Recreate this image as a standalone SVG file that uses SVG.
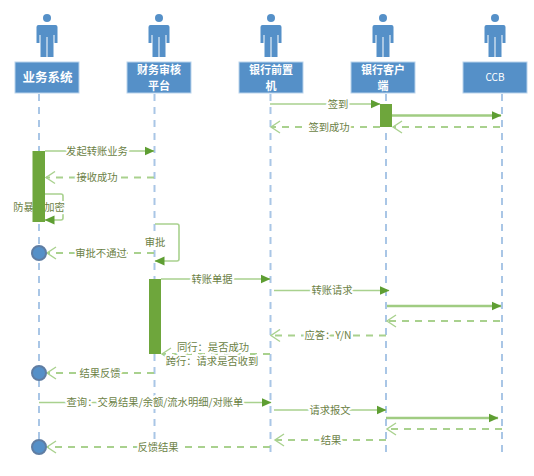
<svg xmlns="http://www.w3.org/2000/svg" width="534" height="476" viewBox="0 0 534 476">
<style>
text{font-family:"Noto Sans CJK SC","Liberation Sans",sans-serif}
.box{fill:#5590c8;stroke:#b9d3ec;stroke-width:1}
.bt{fill:#fff;font-size:11px;font-weight:700;text-anchor:middle}
.life{stroke:#a9c6e6;stroke-width:2;stroke-dasharray:7 6;fill:none}
.s{stroke:#a9d18e;stroke-width:1.6;fill:none;marker-end:url(#solid)}
.t{stroke:#a0cc82;stroke-width:2.4;fill:none;marker-end:url(#solid)}
.d{stroke:#a9d18e;stroke-width:2;stroke-dasharray:7 6;fill:none;marker-end:url(#open)}
.lb{fill:#6b7f45;font-size:10.3px;text-anchor:middle;stroke:#fff;stroke-width:4;paint-order:stroke;stroke-linejoin:round}
.act{fill:#6ea63c}
.end{fill:#5590c8;stroke:#5f7da3;stroke-width:2}
</style>
<defs>
<marker id="solid" markerUnits="userSpaceOnUse" markerWidth="11" markerHeight="11" refX="9.500" refY="5" orient="auto"><path d="M0 .5L10 5L0 9.500z" fill="#5e9e32"/></marker>
<marker id="open" markerUnits="userSpaceOnUse" markerWidth="12" markerHeight="14" refX="10" refY="7" orient="auto"><path d="M1 1L10 7L1 13" fill="none" stroke="#a9d18e" stroke-width="1.400"/></marker>
<g id="man" fill="#5590c8"><circle cx="0" cy="18" r="4"/><path d="M-10.500 27q0-2 2-2h17q2 0 2 2v16h-3v-8h-1v22h-6v-20h-1v20h-6v-22h-1v8h-3z"/></g>
</defs>

<g id="lifelines">
<line class="life" x1="39" y1="94" x2="39" y2="457"/>
<line class="life" x1="154.500" y1="94" x2="154.500" y2="457"/>
<line class="life" x1="270.500" y1="94" x2="270.500" y2="457"/>
<line class="life" x1="386" y1="94" x2="386" y2="457"/>
<line class="life" x1="502" y1="94" x2="502" y2="457"/>
</g>

<g id="node-biz"><use href="#man" x="47"/><rect class="box" x="15" y="62" width="64" height="31"/><text class="bt" x="47.500" y="82" style="font-size:12.500px">业务系统</text></g>
<g id="node-audit"><use href="#man" x="159"/><rect class="box" x="127" y="62" width="64" height="31"/><text class="bt" x="159" y="74">财务审核</text><text class="bt" x="159" y="90">平台</text></g>
<g id="node-front"><use href="#man" x="271"/><rect class="box" x="239" y="62" width="64" height="31"/><text class="bt" x="271" y="74">银行前置</text><text class="bt" x="271" y="90">机</text></g>
<g id="node-client"><use href="#man" x="383"/><rect class="box" x="351" y="62" width="64" height="31"/><text class="bt" x="383" y="74">银行客户</text><text class="bt" x="383" y="90">端</text></g>
<g id="node-ccb"><use href="#man" x="495"/><rect class="box" x="463" y="62" width="64" height="31"/><text class="bt" x="495" y="81" style="font-weight:400;font-size:10px">CCB</text></g>

<g id="connectors">
<line class="s" x1="270" y1="104" x2="380" y2="104"/>
<line class="t" x1="392" y1="115.500" x2="501" y2="115.500"/>
<line class="d" x1="500" y1="127" x2="393" y2="127"/>
<line class="d" x1="380" y1="127" x2="271" y2="127"/>
<line class="s" x1="45" y1="151" x2="154" y2="151"/>
<line class="d" x1="154" y1="177.500" x2="46" y2="177.500"/>
<path class="s" d="M45 194H61q2 0 2 2V218q0 2-2 2H45"/>
<path class="s" d="M155 224H177q2 0 2 2V259q0 2-2 2H155"/>
<line class="d" x1="154" y1="253" x2="47" y2="253"/>
<line class="s" x1="161" y1="279" x2="270" y2="279"/>
<line class="s" x1="274" y1="290.500" x2="389" y2="290.500"/>
<line class="t" x1="387" y1="306" x2="501" y2="306"/>
<line class="d" x1="500" y1="321" x2="387" y2="321"/>
<line class="d" x1="386" y1="335.500" x2="271" y2="335.500"/>
<line class="d" x1="270" y1="354" x2="162" y2="354"/>
<line class="d" x1="154" y1="373" x2="47" y2="373"/>
<line class="s" x1="39" y1="402.500" x2="271" y2="402.500"/>
<line class="s" x1="274" y1="410" x2="386" y2="410"/>
<line class="t" x1="386" y1="418" x2="498" y2="418"/>
<line class="d" x1="502" y1="429" x2="387" y2="429"/>
<line class="d" x1="386" y1="440" x2="275" y2="440"/>
<line class="d" x1="270" y1="447" x2="47" y2="447"/>
</g>

<g id="labels">
<text class="lb" x="338" y="108">签到</text>
<text class="lb" x="329" y="131">签到成功</text>
<text class="lb" x="97" y="155">发起转账业务</text>
<text class="lb" x="97" y="181">接收成功</text>
<text class="lb" x="39" y="211">防暴力加密</text>
<text class="lb" x="155" y="246">审批</text>
<text class="lb" x="101" y="257">审批不通过</text>
<text class="lb" x="212" y="283">转账单据</text>
<text class="lb" x="332" y="294">转账请求</text>
<text class="lb" x="328" y="339">应答：Y/N</text>
<text class="lb" x="213" y="351">同行：是否成功</text>
<text class="lb" x="212" y="365">跨行：请求是否收到</text>
<text class="lb" x="100" y="377">结果反馈</text>
<text class="lb" x="155" y="406">查询：交易结果/余额/流水明细/对账单</text>
<text class="lb" x="330" y="414">请求报文</text>
<text class="lb" x="331" y="444">结果</text>
<text class="lb" x="158" y="451">反馈结果</text>
</g>

<g id="activations">
<rect class="act" x="32.500" y="151" width="12.500" height="71"/>
<rect class="act" x="149" y="279" width="12" height="75"/>
<rect class="act" x="380" y="104" width="12" height="23"/>
</g>

<g id="ends">
<circle class="end" cx="39" cy="253" r="7"/>
<circle class="end" cx="39" cy="373" r="7"/>
<circle class="end" cx="39" cy="447" r="7"/>
</g>
</svg>
